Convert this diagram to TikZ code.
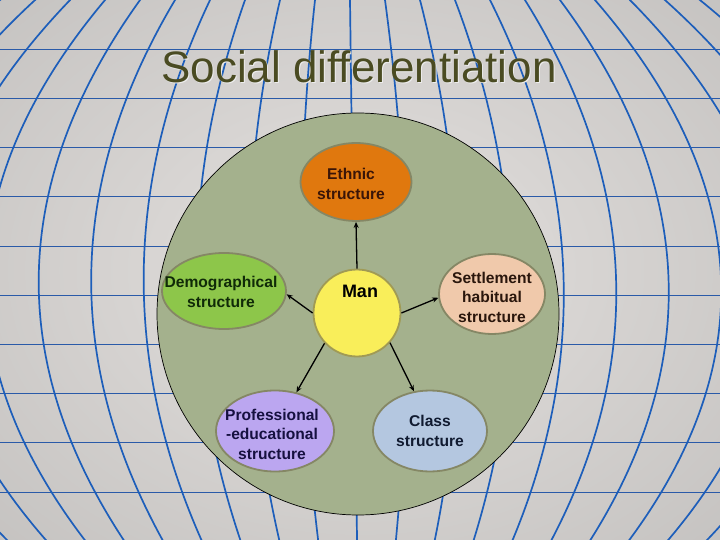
\documentclass[tikz,border=0pt]{standalone}
\usepackage{fontspec}
\setmainfont{Liberation Sans}
\usetikzlibrary{shapes.geometric,arrows.meta}
\definecolor{bgin}{HTML}{DAD7D5}
\definecolor{bgmid}{HTML}{B9B7B5}
\definecolor{bgout}{HTML}{9C9C9C}
\definecolor{meridcol}{HTML}{1D5EBA}
\definecolor{parcol}{HTML}{2A5AA8}
\definecolor{bigfill}{HTML}{A4B18D}
\definecolor{ethnicfill}{HTML}{E0780E}
\definecolor{demofill}{HTML}{8DC64A}
\definecolor{settlefill}{HTML}{F0C9AB}
\definecolor{proffill}{HTML}{BBA6F0}
\definecolor{classfill}{HTML}{B4C7E0}
\definecolor{manfill}{HTML}{F9EE5A}
\definecolor{manborder}{HTML}{A09A55}
\definecolor{nodeborder}{HTML}{858765}
\definecolor{titlecol}{HTML}{4A4B22}
\definecolor{titleshadow}{HTML}{EDEDED}
\definecolor{ethnictext}{HTML}{3A1508}
\definecolor{greentext}{HTML}{102A08}
\definecolor{browntext}{HTML}{2A160C}
\definecolor{navytext}{HTML}{161040}
\definecolor{classtext}{HTML}{101A30}
\pgfdeclareradialshading{bgshade}{\pgfpoint{0bp}{0bp}}{color(0bp)=(bgin); color(12bp)=(bgin); color(50bp)=(bgmid); color(71bp)=(bgout)}
\tikzset{
  oval/.style={ellipse, draw=nodeborder, line width=1.8pt, inner sep=0pt},
  lbl/.style={align=center, inner sep=0pt, font=\fontsize{15.6}{19.5}\selectfont\bfseries},
  arr/.style={-{Stealth[length=6pt,width=5pt]}, line width=1.3pt, draw=black},
  merid/.style={draw=meridcol, line width=1.7pt},
  para/.style={draw=parcol, line width=0.8pt},
  titlefont/.style={font=\fontsize{44}{50}\selectfont, anchor=base, inner sep=0pt}
}
\begin{document}
\begin{tikzpicture}[x=1pt,y=-1pt]
\useasboundingbox (0,0) rectangle (720,540);
\begin{scope}
  \clip (0,0) rectangle (720,540);
  \shade[shading=bgshade] (0,0) rectangle (720,540);
  \foreach \i in {1,...,10}
    \draw[para] (-5,{49.2*\i}) -- (725,{49.2*\i});
  \foreach \k in {-11,...,11}
    \draw[merid] plot[domain=-20:560, samples=40, smooth]
      ({350+0.013*\x+52.5*\k*(1-((\x-287)/497)^2)}, {\x});
\end{scope}

% title
\node[titlefont, text=titleshadow] (titleshadow) at (360,84) {Social differentiation};
\node[titlefont, text=titlecol] (title) at (359,83) {Social differentiation};

% big circle
\node[circle, draw=black, line width=0.7pt, fill=bigfill, minimum size=402pt, inner sep=0pt] (ring) at (358,314) {};

% nodes
\node[oval, fill=ethnicfill, minimum width=111pt, minimum height=78pt] (ethnic) at (356,182) {};
\node[oval, fill=demofill, minimum width=124pt, minimum height=76pt] (demog) at (224,291) {};
\node[oval, fill=settlefill, minimum width=106pt, minimum height=80pt] (settle) at (492,294) {};
\node[oval, fill=proffill, minimum width=118pt, minimum height=81pt] (prof) at (275,431) {};
\node[oval, fill=classfill, minimum width=114pt, minimum height=81pt] (class) at (430,431) {};
\node[circle, draw=manborder, line width=1.8pt, fill=manfill, minimum size=87pt, inner sep=0pt] (man) at (357,313) {};

% labels
\node[lbl, text=ethnictext] (ethnicT) at (351,184) {Ethnic\\structure};
\node[lbl, text=greentext] (demogT) at (221,292) {Demographical\\structure};
\node[lbl, text=browntext] (settleT) at (492,297) {Settlement\\habitual\\structure};
\node[lbl, text=navytext] (profT) at (272,434) {Professional\\-educational\\structure};
\node[lbl, text=classtext] (classT) at (430,431) {Class\\structure};
\node[font=\fontsize{18}{22}\selectfont\bfseries, inner sep=0pt, text=black] (manT) at (360,291) {Man};

% arrows
\draw[arr] (man.north) -- (ethnic.south);
\draw[arr] (man.180) -- (demog.-3);
\draw[arr] (man.0) -- (settle.184);
\draw[arr] (man.223) -- (prof.61);
\draw[arr] (man.-42) -- (class.112);
\end{tikzpicture}
\end{document}
